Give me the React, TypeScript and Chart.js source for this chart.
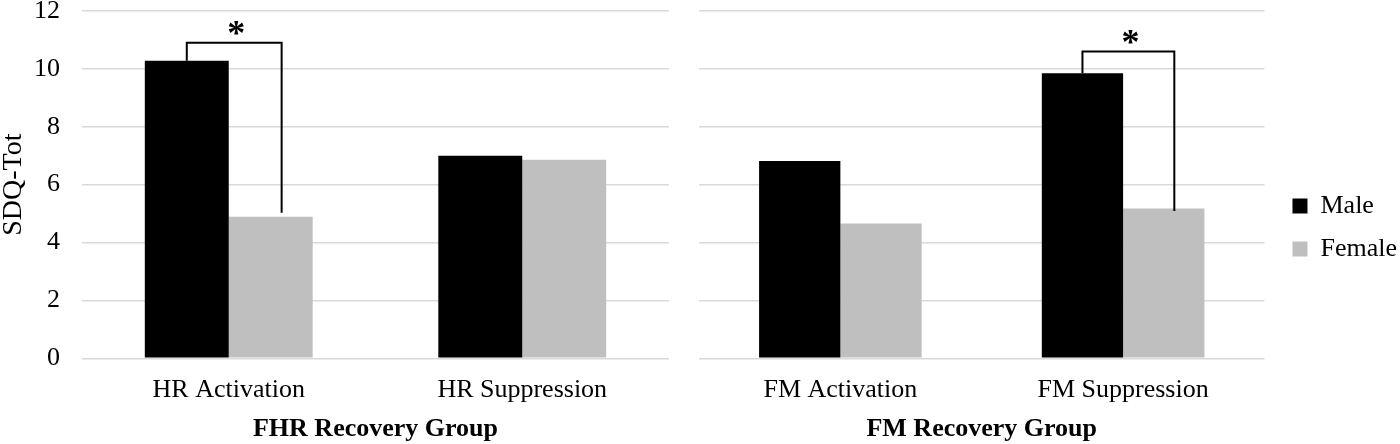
import React, { useEffect, useRef } from "react";
import { Chart, registerables } from "chart.js";

Chart.register(...registerables);

// ---- data ----
const fhrCategories = ["HR Activation", "HR Suppression"];
const fmCategories = ["FM Activation", "FM Suppression"];
const seriesNames = ["Male", "Female"];
const maleFHR = [10.28, 7.0];
const femaleFHR = [4.89, 6.86];
const maleFM = [6.82, 9.85];
const femaleFM = [4.66, 5.18];
const yTicks = [0, 2, 4, 6, 8, 10, 12];
const fhrTitle = "FHR Recovery Group";
const fmTitle = "FM Recovery Group";
const yTitle = "SDQ-Tot";
// significance brackets: [category index, bracket top value, right leg end value]
const fhrBracket = [0, 10.9, 5.03];
const fmBracket = [1, 10.6, 5.09];
const sigLabel = "*";

const FONT = "'Liberation Serif', 'Times New Roman', serif";
const MALE_COLOR = "#000000";
const FEMALE_COLOR = "#BFBFBF";
const GRID_COLOR = "#D9D9D9";

const bracketPlugin = (b: number[]) => ({
  id: "sigBracket",
  afterDatasetsDraw(chart: any) {
    const ctx = chart.ctx;
    const y = chart.scales.y;
    const m0 = chart.getDatasetMeta(0).data[b[0]] as any;
    const m1 = chart.getDatasetMeta(1).data[b[0]] as any;
    const xl = m0.x;
    const xr = m1.x + m1.width * 0.13;
    const yt = y.getPixelForValue(b[1]);
    const yl = m0.y;
    const yr = y.getPixelForValue(b[2]);
    ctx.save();
    ctx.strokeStyle = "#000";
    ctx.lineWidth = 2;
    ctx.beginPath();
    ctx.moveTo(xl, yl);
    ctx.lineTo(xl, yt);
    ctx.lineTo(xr, yt);
    ctx.lineTo(xr, yr);
    ctx.stroke();
    ctx.fillStyle = "#000";
    ctx.font = `bold 36px ${FONT}`;
    ctx.textAlign = "center";
    ctx.textBaseline = "alphabetic";
    ctx.fillText(sigLabel, (xl + xr) / 2 + 2, yt + 2);
    ctx.restore();
  },
});

const legendShift = {
  id: "legendShift",
  afterLayout(chart: any) {
    if (chart.legend) {
      chart.legend.left += 11;
      chart.legend.right += 11;
    }
  },
};

function makeConfig(
  labels: string[],
  male: number[],
  female: number[],
  title: string,
  left: boolean,
  bracket: number[]
): any {
  const xAxisHeight = 85.7;
  return {
    type: "bar",
    data: {
      labels,
      datasets: [
        { label: seriesNames[0], data: male, backgroundColor: MALE_COLOR, borderWidth: 0 },
        { label: seriesNames[1], data: female, backgroundColor: FEMALE_COLOR, borderWidth: 0 },
      ],
    },
    options: {
      responsive: false,
      animation: false,
      events: [],
      layout: {
        padding: left
          ? { left: 0, right: 11, top: 11, bottom: 0 }
          : { left: 19, right: 4, top: 11, bottom: 0 },
      },
      datasets: {
        bar: { barPercentage: 1, categoryPercentage: left ? 0.572 : 0.575 },
      },
      scales: {
        x: {
          grid: { display: false, drawTicks: false },
          border: { display: false },
          ticks: {
            color: "#000",
            font: { family: FONT, size: 26 },
            padding: 16,
            maxRotation: 0,
          },
          title: {
            display: true,
            text: title,
            color: "#000",
            font: { family: FONT, size: 26, weight: "bold", lineHeight: 1.1 },
            padding: 0,
          },
          afterFit(s: any) {
            s.height = xAxisHeight;
            s.paddingLeft = 0;
            s.paddingRight = 0;
          },
        },
        y: {
          min: 0,
          max: 12,
          afterBuildTicks(s: any) {
            s.ticks = yTicks.map((v) => ({ value: v }));
          },
          grid: { color: GRID_COLOR, lineWidth: 1.5, drawTicks: false },
          border: { display: false },
          ticks: {
            display: left,
            color: "#000",
            font: { family: FONT, size: 26 },
            padding: 22,
          },
          title: {
            display: left,
            text: yTitle,
            color: "#000",
            font: { family: FONT, size: 28, lineHeight: 1 },
            padding: 0,
          },
          afterFit(s: any) {
            s.width = left ? 82 : 0;
            s.paddingTop = 0;
            s.paddingBottom = 0;
          },
        },
      },
      plugins: {
        tooltip: { enabled: false },
        legend: left
          ? { display: false }
          : {
              display: true,
              position: "right",
              align: "center",
              maxWidth: 132,
              labels: {
                color: "#000",
                boxWidth: 15,
                boxHeight: 15,
                padding: 17,
                font: { family: FONT, size: 26 },
              },
            },
      },
    },
    plugins: left ? [bracketPlugin(bracket)] : [bracketPlugin(bracket), legendShift],
  };
}

function Panel(props: {
  labels: string[];
  male: number[];
  female: number[];
  title: string;
  left: boolean;
  bracket: number[];
  x: number;
  w: number;
}) {
  const ref = useRef<HTMLCanvasElement | null>(null);
  useEffect(() => {
    if (!ref.current) return;
    const chart = new Chart(
      ref.current,
      makeConfig(props.labels, props.male, props.female, props.title, props.left, props.bracket)
    );
    return () => chart.destroy();
  }, []);
  return (
    <canvas
      ref={ref}
      width={props.w}
      height={444}
      style={{ position: "absolute", left: props.x, top: 0, width: props.w, height: 444, display: "block" }}
    />
  );
}

export default function App() {
  return (
    <div style={{ position: "absolute", left: 0, top: 0, width: 1400, height: 444, background: "#fff" }}>
      <Panel labels={fhrCategories} male={maleFHR} female={femaleFHR} title={fhrTitle} left={true} bracket={fhrBracket} x={0} w={680} />
      <Panel labels={fmCategories} male={maleFM} female={femaleFM} title={fmTitle} left={false} bracket={fmBracket} x={680} w={720} />
    </div>
  );
}
